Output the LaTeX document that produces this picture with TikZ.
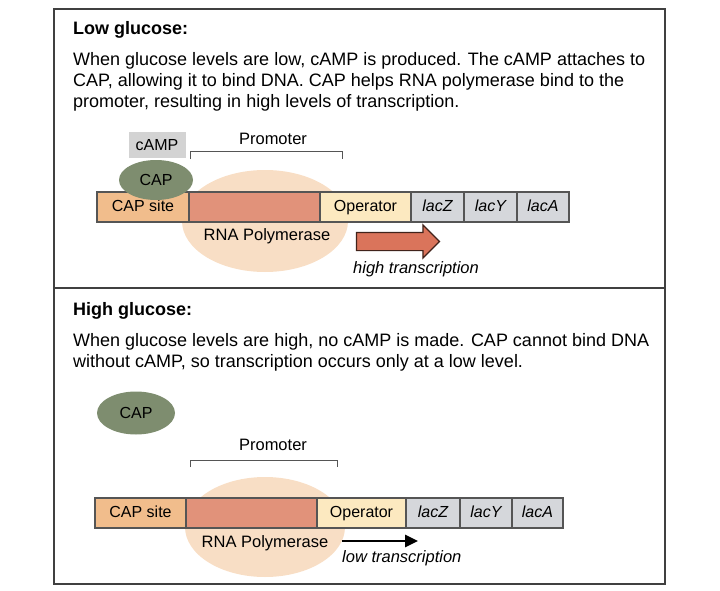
\documentclass[tikz,border=0pt]{standalone}
\usepackage{fontspec}
\setmainfont{Liberation Sans}
\usetikzlibrary{positioning,shapes,shapes.arrows,arrows.meta}

\definecolor{capsite}{RGB}{241,189,140}
\definecolor{polred}{RGB}{225,146,122}
\definecolor{opyellow}{RGB}{252,233,192}
\definecolor{genegray}{RGB}{213,215,219}
\definecolor{polbg}{RGB}{248,222,197}
\definecolor{capgreen}{RGB}{126,141,111}
\definecolor{campgray}{RGB}{211,211,211}
\definecolor{hiarrow}{RGB}{218,116,91}
\definecolor{lineg}{RGB}{85,85,85}

\begin{document}
\begin{tikzpicture}[x=1pt,y=-1pt,
	segment/.style={rectangle,draw=lineg,line width=1.2pt,inner sep=0pt,outer sep=0pt,minimum height=30pt,text height=11.5pt,text depth=3.3pt,font=\fontsize{16}{18}\selectfont},
	gene/.style={segment,fill=genegray,minimum width=53pt,font=\fontsize{16}{18}\selectfont\itshape},
	capblob/.style={ellipse,fill=capgreen,inner sep=0pt,font=\fontsize{16}{18}\selectfont},
	polymerase/.style={ellipse,fill=polbg,inner sep=0pt},
	camp/.style={rectangle,fill=campgray,inner sep=0pt,minimum width=57pt,minimum height=26pt,font=\fontsize{16}{18}\selectfont},
	heading/.style={anchor=base west,inner sep=0pt,font=\fontsize{18}{21}\selectfont\bfseries},
	para/.style={anchor=base west,inner sep=0pt,align=left,font=\fontsize{18}{21}\selectfont},
	lbl/.style={anchor=base,inner sep=0pt,font=\fontsize{16.5}{18}\selectfont},
	lbli/.style={anchor=base west,inner sep=0pt,font=\fontsize{16.5}{18}\selectfont\itshape},
	bracket/.style={draw=lineg,line width=1pt},
	frame/.style={draw=black!75,line width=2.2pt},
	fatarrow/.style={single arrow,fill=hiarrow,draw=black!70!hiarrow,line width=1.2pt,inner sep=8.5pt,single arrow head extend=7.5pt,minimum height=83pt},
	lowarrow/.style={-{Triangle[length=13pt,width=12pt]},line width=2.8pt}
	]
\useasboundingbox (0,0) rectangle (720,591);

% panels
\draw[frame] (54,9) rectangle (665,584);
\draw[frame] (54,288) -- (665,288);

%% low glucose
\node [heading] (h1) at (73,35) {Low glucose:};
\node [para] (t1) at (73,108) {When glucose levels are low, cAMP is produced. The cAMP attaches to\\
CAP, allowing it to bind DNA. CAP helps RNA polymerase bind to the\\
promoter, resulting in high levels of transcription.};

\node [polymerase, minimum width=166pt, minimum height=102pt] (rnap1) at (265,221) {};

\node [segment, fill=capsite, minimum width=92pt] (site1) at (97,207) [anchor=west] {CAP site};
\node [segment, fill=polred, minimum width=131pt] (pol1) [right=0pt of site1] {};
\node [segment, fill=opyellow, minimum width=91pt] (op1) [right=0pt of pol1] {Operator};
\node [gene] (z1) [right=0pt of op1] {lacZ};
\node [gene] (y1) [right=0pt of z1] {lacY};
\node [gene, minimum width=52pt] (a1) [right=0pt of y1] {lacA};

\node [camp] (camp1) at (157,145) {cAMP};
\node [capblob, minimum width=74pt, minimum height=40pt] (cap1) at (156,180) {CAP};

\coordinate (pl1) at (190,152);
\coordinate (pr1) at (342,152);
\draw [bracket] ([yshift=-7pt]pl1) -- (pl1) -- (pr1) -- ([yshift=-7pt]pr1);
\node [lbl] (prom1) at (273,145) {Promoter};

\node [lbl] (rl1) at (267,240) {RNA Polymerase};
\node [fatarrow] (hi) at (393.5,241.5) {};
\node [lbli] (hit) at (353,273) {high transcription};

%% high glucose
\node [heading] (h2) at (73,315) {High glucose:};
\node [para] (t2) at (73,367) {When glucose levels are high, no cAMP is made. CAP cannot bind DNA\\
without cAMP, so transcription occurs only at a low level.};

\node [capblob, minimum width=78pt, minimum height=43pt] (cap2) at (136,413) {CAP};

\coordinate (pl2) at (190,460);
\coordinate (pr2) at (337,460);
\draw [bracket] ([yshift=-7pt]pl2) -- (pl2) -- (pr2) -- ([yshift=-7pt]pr2);
\node [lbl] (prom2) at (273,450) {Promoter};

\node [polymerase, minimum width=160pt, minimum height=100pt] (rnap2) at (265,527) {};

\node [segment, fill=capsite, minimum width=91pt] (site2) at (95,513) [anchor=west] {CAP site};
\node [segment, fill=polred, minimum width=131pt] (pol2) [right=0pt of site2] {};
\node [segment, fill=opyellow, minimum width=89pt] (op2) [right=0pt of pol2] {Operator};
\node [gene, minimum width=54pt] (z2) [right=0pt of op2] {lacZ};
\node [gene, minimum width=52pt] (y2) [right=0pt of z2] {lacY};
\node [gene, minimum width=51pt] (a2) [right=0pt of y2] {lacA};

\node [lbl] (rl2) at (265,547) {RNA Polymerase};
\coordinate (lo1) at (342,541);
\coordinate (lo2) at (418,541);
\draw [lowarrow] (lo1) -- (lo2);
\node [lbli] (lot) at (342,562) {low transcription};
\end{tikzpicture}
\end{document}
